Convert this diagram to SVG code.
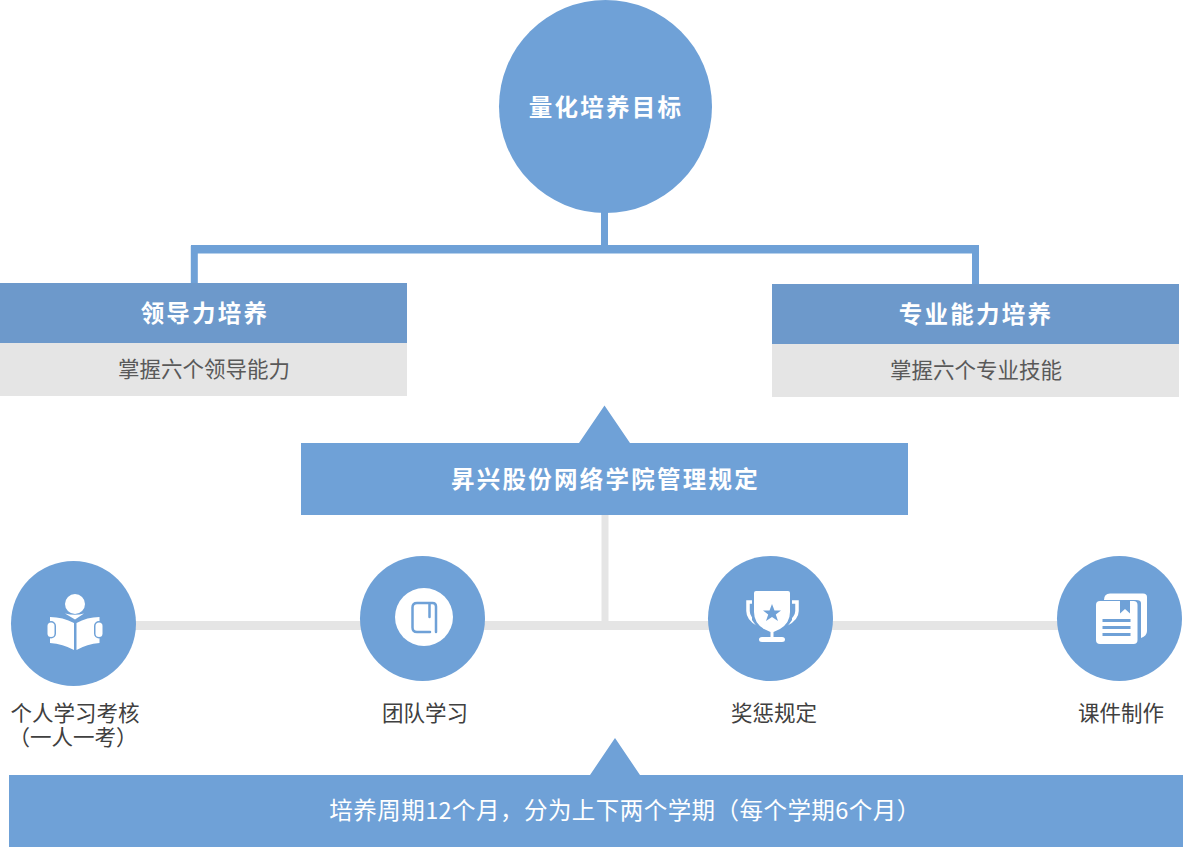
<svg xmlns="http://www.w3.org/2000/svg" width="1201" height="847" viewBox="0 0 1201 847">
<style>
text{font-family:"Noto Sans CJK SC","Noto Sans CJK JP",sans-serif;text-anchor:middle}
.b{fill:#6fa1d7}.h{fill:#6d99cb}.g{fill:#e5e5e5}.w{fill:#fff}
.t{fill:#fff;font-weight:700;font-size:23.500px;letter-spacing:2.250px}
.s{fill:#595959;font-size:21.500px}
.l{fill:#404040;font-size:21.500px}
.line{fill:none;stroke:#6fa1d7;stroke-width:7}
.gl{fill:none;stroke:#e5e5e5}
.ov{fill:#fff;stroke:#6fa1d7;stroke-width:3;paint-order:stroke}
</style>
<rect width="1201" height="847" fill="#fff"/>
<g id="connectors">
<path class="line" d="M194.300 283V249.300H975.500V284"/>
<path class="line" style="stroke-width:8.500" d="M191 249.300H979"/>
<path class="line" d="M604.500 210V249"/>
<path class="gl" stroke-width="9" d="M130 625.500H1065"/>
<path class="gl" stroke-width="7" d="M605 515V625"/>
</g>
<g id="goal"><circle class="b" cx="605.500" cy="106.500" r="106.500"/><text class="t" x="606" y="116">量化培养目标</text></g>
<g id="leadership">
<rect class="h" x="0" y="283" width="407" height="60"/><rect class="g" x="0" y="343" width="407" height="53"/>
<text class="t" x="205" y="322">领导力培养</text><text class="s" x="204" y="377">掌握六个领导能力</text>
</g>
<g id="professional">
<rect class="h" x="772" y="284" width="407" height="60"/><rect class="g" x="772" y="344" width="407" height="53"/>
<text class="t" x="976" y="323">专业能力培养</text><text class="s" x="976" y="378">掌握六个专业技能</text>
</g>
<g id="rules">
<path class="b" d="M301 443H579L604.500 405.500L630 443H908V515H301Z"/>
<text class="t" x="605.500" y="488">昇兴股份网络学院管理规定</text>
</g>
<g id="n1">
<circle class="b" cx="73.500" cy="623.500" r="62.500"/>
<circle class="w" cx="75" cy="604" r="10"/>
<path class="w" d="M65 613.500Q75 616 84 613.500L75 619.500Z"/>
<path class="w" d="M50 617Q63 617 74 623V650Q63 644 50 643Z"/>
<path class="w" d="M99.500 617Q87 617 76.500 623V650Q87 644 99.500 643Z"/>
<rect class="ov" x="47.500" y="622.500" width="7" height="14.500" rx="3.500"/>
<rect class="ov" x="95.500" y="622.500" width="7" height="14.500" rx="3.500"/>
<text class="l" x="75" y="721">个人学习考核</text><text class="l" x="73" y="745">（一人一考）</text>
</g>
<g id="n2">
<circle class="b" cx="422.500" cy="618.500" r="62.500"/>
<circle class="w" cx="424" cy="617" r="29"/>
<path d="M430 632H417Q412.500 632 412.500 627.500V607.500Q412.500 603 417 603H432.500Q436 603 436 606.500V632M429.500 603V617" fill="none" stroke="#6fa1d7" stroke-width="2.500" stroke-linecap="round"/>
<text class="l" x="425" y="721">团队学习</text>
</g>
<g id="n3">
<circle class="b" cx="770.500" cy="618.500" r="62.500"/>
<path d="M752 602H748V611Q748 619 758 624.500M792 602H797V611Q797 619 786 624.500" fill="none" stroke="#fff" stroke-width="3.500"/>
<path class="b" d="M752 604H755V618L760 626L757 627L752 620ZM792 604H789V618L784 626L787 627L792 620Z"/>
<path class="w" d="M754 593Q754 591 756 591H788Q790 591 790 593V612Q790 623 780 629L773.500 632V637H782Q785 637 785 639.500T782 642H762Q759 642 759 639.500T762 637H770.500V632L764 629Q754 623 754 612Z"/>
<path class="b" d="M772 604L774.500 610.500H781L775.800 614.500L778 621L772 617L766 621L768.200 614.500L763 610.500H769.500Z"/>
<text class="l" x="774" y="721">奖惩规定</text>
</g>
<g id="n4">
<circle class="b" cx="1119.500" cy="618.500" r="62.500"/>
<path class="w" d="M1104 600Q1104 593.500 1110 593.500H1143Q1147 593.500 1147 597V631Q1147 636 1141 638V603Q1141 600 1136 600Z"/>
<rect class="w" x="1096" y="601" width="41.500" height="43" rx="4"/>
<path class="b" d="M1120 600H1130V613.500L1125 609L1120 613.500Z"/>
<path class="b" d="M1102.500 619h28v3h-28zM1102.500 626h28v3h-28zM1102.500 633h28v3h-28z"/>
<text class="l" x="1121" y="721">课件制作</text>
</g>
<g id="period">
<path class="b" d="M9 775H590L615 738L640 775H1183V847H9Z"/>
<text x="625" y="819" fill="#fff" font-size="23.500" style="letter-spacing:.45px">培养周期12个月，分为上下两个学期（每个学期6个月）</text>
</g>
</svg>
